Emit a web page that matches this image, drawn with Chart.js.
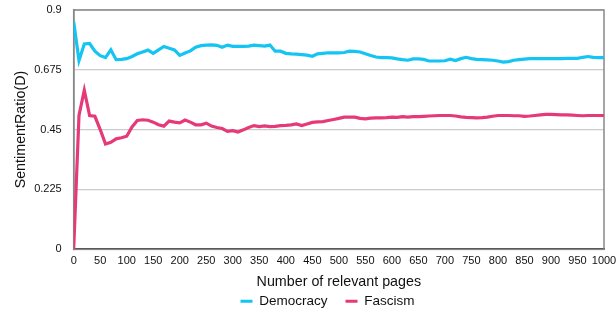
<!DOCTYPE html>
<html>
<head>
<meta charset="utf-8">
<script src="https://cdn.jsdelivr.net/npm/chart.js@4/dist/chart.umd.min.js"></script>
<style>
  body { margin: 0; background: #fff; }
  #wrap { width: 616px; height: 313px; }
</style>
</head>
<body>
<div id="wrap"><canvas id="myChart" width="616" height="313"></canvas></div>
<script>
// pages sampled every 10
var pages = [0, 10, 20, 30, 40, 50, 60, 70, 80, 90,
  100, 110, 120, 130, 140, 150, 160, 170, 180, 190,
  200, 210, 220, 230, 240, 250, 260, 270, 280, 290,
  300, 310, 320, 330, 340, 350, 360, 370, 380, 390,
  400, 410, 420, 430, 440, 450, 460, 470, 480, 490,
  500, 510, 520, 530, 540, 550, 560, 570, 580, 590,
  600, 610, 620, 630, 640, 650, 660, 670, 680, 690,
  700, 710, 720, 730, 740, 750, 760, 770, 780, 790,
  800, 810, 820, 830, 840, 850, 860, 870, 880, 890,
  900, 910, 920, 930, 940, 950, 960, 970, 980, 990, 1000];

var democracy = [0.856, 0.71, 0.772, 0.774, 0.745, 0.728, 0.721, 0.750, 0.713, 0.714,
  0.717, 0.725, 0.735, 0.742, 0.749, 0.737, 0.750, 0.763, 0.756, 0.750,
  0.729, 0.738, 0.746, 0.760, 0.766, 0.768, 0.769, 0.767, 0.760, 0.768,
  0.763, 0.763, 0.763, 0.764, 0.768, 0.766, 0.764, 0.768, 0.745, 0.745,
  0.737, 0.735, 0.734, 0.732, 0.730, 0.726, 0.735, 0.737, 0.739, 0.739,
  0.739, 0.740, 0.745, 0.744, 0.742, 0.735, 0.729, 0.723, 0.721, 0.721,
  0.720, 0.716, 0.713, 0.711, 0.716, 0.716, 0.714, 0.708, 0.708, 0.708,
  0.709, 0.715, 0.710, 0.717, 0.722, 0.717, 0.714, 0.713, 0.712, 0.711,
  0.708, 0.704, 0.706, 0.711, 0.713, 0.715, 0.717, 0.717, 0.717, 0.717,
  0.717, 0.717, 0.717, 0.718, 0.718, 0.718, 0.722, 0.725, 0.722, 0.721, 0.721];

var fascism = [0, 0.503, 0.598, 0.503, 0.500, 0.450, 0.396, 0.402, 0.415, 0.419,
  0.425, 0.460, 0.484, 0.487, 0.485, 0.478, 0.468, 0.463, 0.482, 0.478,
  0.475, 0.486, 0.478, 0.468, 0.468, 0.474, 0.463, 0.458, 0.454, 0.443,
  0.446, 0.441, 0.449, 0.458, 0.465, 0.461, 0.464, 0.461, 0.462, 0.465,
  0.466, 0.468, 0.471, 0.465, 0.471, 0.477, 0.479, 0.480, 0.484, 0.488,
  0.492, 0.497, 0.497, 0.497, 0.492, 0.490, 0.493, 0.494, 0.494, 0.495,
  0.497, 0.496, 0.499, 0.497, 0.499, 0.499, 0.500, 0.501, 0.502, 0.503,
  0.503, 0.503, 0.501, 0.498, 0.496, 0.495, 0.494, 0.495, 0.497, 0.500,
  0.503, 0.503, 0.503, 0.502, 0.502, 0.500, 0.501, 0.503, 0.505, 0.507,
  0.507, 0.506, 0.505, 0.505, 0.504, 0.503, 0.502, 0.503, 0.503, 0.503, 0.503];

var yTicks = [0, 0.225, 0.45, 0.675, 0.9];

function pts(vals) {
  var out = [];
  for (var i = 0; i < pages.length; i++)
    out.push({ x: pages[i], y: vals[i] });
  return out;
}

// gray box around the plot area
var frame = {
  id: 'frame',
  beforeDatasetsDraw: function (chart) {
    var a = chart.chartArea, c = chart.ctx;
    c.save();
    c.strokeStyle = '#888';
    c.lineWidth = 1.5;
    c.strokeRect(a.left, a.top, a.right - a.left, a.bottom - a.top);
    c.restore();
  }
};

// nudge the legend a bit to the right, like the original
var legendShift = {
  id: 'legendShift',
  afterLayout: function (chart) {
    chart.legend.left += 24;
    chart.legend.right += 24;
  }
};

Chart.defaults.font.family = '"Liberation Sans", Arial, sans-serif';
Chart.defaults.color = '#111';

var ctx = document.getElementById('myChart');
var myChart = new Chart(ctx, {
  type: 'line',
  data: {
    datasets: [
      {
        label: 'Democracy',
        data: pts(democracy),
        borderColor: '#14c4f2',
        backgroundColor: '#14c4f2',
        borderWidth: 3.2,
        pointRadius: 0,
        tension: 0
      },
      {
        label: 'Fascism',
        data: pts(fascism),
        borderColor: '#e63a78',
        backgroundColor: '#e63a78',
        borderWidth: 3.2,
        pointRadius: 0,
        tension: 0
      }
    ]
  },
  options: {
    responsive: false,
    animation: false,
    layout: { padding: { left: 3, right: 12, top: 10, bottom: -5 } },
    plugins: {
      legend: {
        position: 'bottom',
        labels: {
          usePointStyle: true,
          pointStyle: 'line',
          pointStyleWidth: 12,
          boxWidth: 12,
          padding: 18,
          font: { size: 13.5 },
          color: '#111'
        }
      },
      tooltip: { enabled: false }
    },
    scales: {
      x: {
        type: 'linear',
        min: 0,
        max: 1000,
        grid: { display: false, drawTicks: false },
        border: { color: '#111', width: 1.5 },
        ticks: {
          stepSize: 50, autoSkip: false, maxRotation: 0, padding: 5, font: { size: 11 },
          callback: function (v) { return String(v); }
        },
        title: { display: true, text: 'Number of relevant pages', font: { size: 14.3 }, padding: { top: 1, bottom: -14 } },
        afterFit: function (s) { s.paddingLeft = 0; s.paddingRight = 0; }
      },
      y: {
        min: 0,
        max: 0.9,
        afterBuildTicks: function (axis) {
          axis.ticks = yTicks.map(function (v) { return { value: v }; });
        },
        grid: { color: '#cccccc', lineWidth: 1.2, drawTicks: false },
        border: { color: '#666', width: 1.5 },
        ticks: {
          padding: 12, font: { size: 11 },
          callback: function (v) { return String(v); }
        },
        title: { display: true, text: 'SentimentRatio(D)', font: { size: 14.3 }, padding: { top: 9.5, bottom: -7.5 } },
        afterFit: function (s) { s.paddingTop = 0; s.paddingBottom = 0; }
      }
    }
  },
  plugins: [frame, legendShift]
});
</script>
</body>
</html>
